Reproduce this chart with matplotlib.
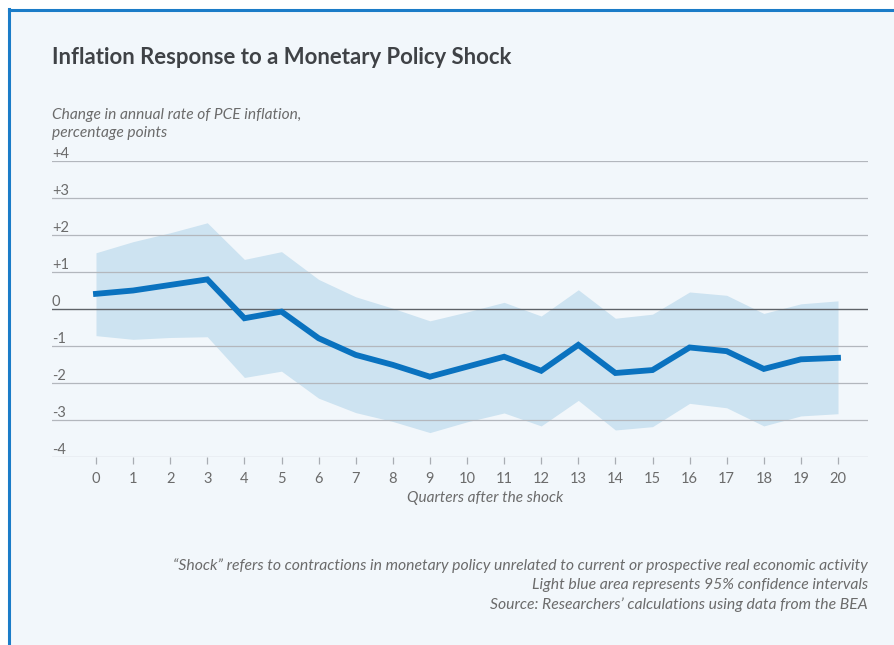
import matplotlib.pyplot as plt
import numpy as np

# data
quarters = list(range(21))
response = [0.41, 0.50, 0.65, 0.80, -0.25, -0.07, -0.79, -1.24, -1.51, -1.83, -1.56,
            -1.29, -1.67, -0.97, -1.73, -1.65, -1.04, -1.14, -1.62, -1.36, -1.32]
upper = [1.52, 1.82, 2.06, 2.33, 1.34, 1.55, 0.80, 0.33, 0.02, -0.32, -0.08,
         0.18, -0.19, 0.52, -0.25, -0.14, 0.46, 0.37, -0.12, 0.14, 0.22]
lower = [-0.72, -0.82, -0.77, -0.75, -1.85, -1.68, -2.41, -2.80, -3.04, -3.34, -3.05,
         -2.81, -3.16, -2.47, -3.27, -3.18, -2.55, -2.67, -3.16, -2.89, -2.83]
yticks = [4, 3, 2, 1, 0, -1, -2, -3, -4]
ytick_labels = ['+4', '+3', '+2', '+1', '0', '-1', '-2', '-3', '-4']

plt.rcParams['font.family'] = ['Lato', 'DejaVu Sans']

W, H = 895, 645
fig = plt.figure(figsize=(W / 100, H / 100), dpi=100, facecolor='white')

# panel background and blue frame (top + left)
fig.patches.append(plt.Rectangle((9 / W, 0), 1, 1 - 9 / H, transform=fig.transFigure,
                                 facecolor='#f2f7fb', edgecolor='none', zorder=-10))
fig.add_artist(plt.Line2D([9 / W, 9 / W], [0, 1 - 9 / H], color='#1b7cc8', lw=2.2,
                          transform=fig.transFigure))
fig.add_artist(plt.Line2D([9 / W, 1], [1 - 10 / H, 1 - 10 / H], color='#1b7cc8', lw=2.2,
                          transform=fig.transFigure))

# axes placed in pixels: x 52..868, y 161..457
ax = fig.add_axes([52 / W, 1 - 457 / H, (868 - 52) / W, (457 - 161) / H])
ax.set_zorder(5)
ax.set_facecolor('none')
ax.set_xlim(-44 / 37.1, 772 / 37.1)
ax.set_ylim(-4, 4)

for v, lab in zip(yticks, ytick_labels):
    if v == 0:
        ax.axhline(v, color='#5f6368', lw=1.0, zorder=1)
    else:
        ax.axhline(v, color='#b3b7bd', lw=0.9, zorder=1)
    ax.text(0, v + 0.08, lab, transform=ax.get_yaxis_transform(),
            ha='left', va='baseline', fontsize=10.5, color='#6b6b6b')

ax.fill_between(quarters, lower, upper, color='#cde3f1', lw=0, zorder=0.5)
ax.plot(quarters, response, color='#0a72bf', lw=4.2, solid_joinstyle='miter', zorder=3)

for s in ax.spines.values():
    s.set_visible(False)
ax.set_yticks([])
ax.set_xticks(quarters)
ax.tick_params(axis='x', length=5, width=0.9, color='#a9adb3', labelsize=10.5,
               labelcolor='#6b6b6b', pad=6)

# texts
fig.text(52 / W, 1 - 57 / H, 'Inflation Response to a Monetary Policy Shock',
         fontsize=15.9, fontweight='bold', color='#3f4246', va='center')
fig.text(52 / W, 1 - 124 / H, 'Change in annual rate of PCE inflation,\npercentage points',
         fontsize=11.2, style='italic', color='#6b6b6b', va='center', linespacing=1.3)
fig.text(485 / W, 1 - 498 / H, 'Quarters after the shock', fontsize=11.1, style='italic',
         color='#6b6b6b', ha='center', va='center')
notes = ['\u201cShock\u201d refers to contractions in monetary policy unrelated to current or prospective real economic activity',
         'Light blue area represents 95% confidence intervals',
         'Source: Researchers\u2019 calculations using data from the BEA']
for i, t in enumerate(notes):
    fig.text(868 / W, 1 - (566 + 19.5 * i) / H, t, fontsize=11.3, style='italic',
             color='#6b6b6b', ha='right', va='center')

fig.savefig('out.png', dpi=100)
